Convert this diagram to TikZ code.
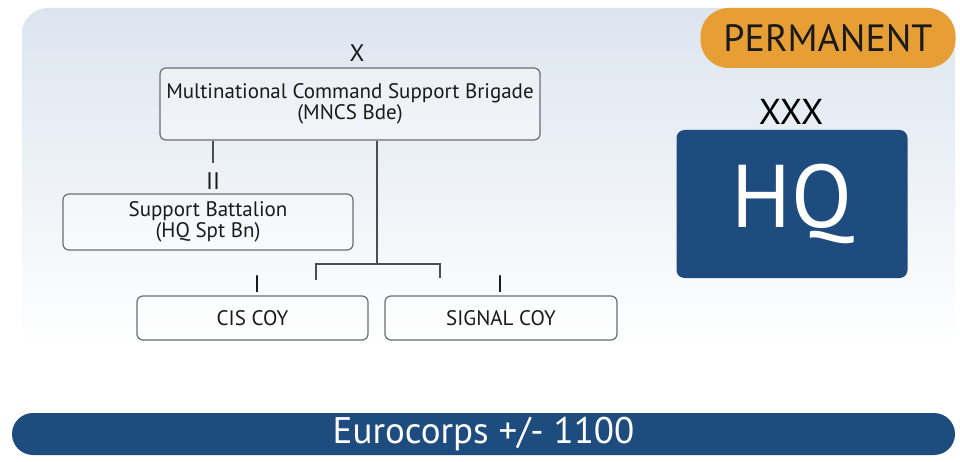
\documentclass[tikz,border=0pt]{standalone}
\usepackage{fontspec}
\setmainfont{PT Sans}
\begin{document}
\begin{tikzpicture}[x=1pt,y=-1pt,
  orgbox/.style={draw=boxgray,line width=1.2pt,rounded corners=6pt,fill=white,fill opacity=0.35,text opacity=1,align=center,inner sep=0pt,text=textdark,font=\fontsize{21}{21}\selectfont},
  conn/.style={draw=linegray,line width=1.3pt},
  rank/.style={font=\fontsize{24}{26}\selectfont,text=textdark,inner sep=0pt}]
\definecolor{boxgray}{HTML}{6A6E73}
\definecolor{linegray}{HTML}{4A4D52}
\definecolor{textdark}{HTML}{1A1A1A}
\definecolor{navy}{HTML}{1E4C7E}
\definecolor{orangeb}{HTML}{E79E34}
\definecolor{paneltop}{HTML}{DCE5EF}
\useasboundingbox (0,0) rectangle (960,462);
\fill[white] (0,0) rectangle (960,462);
% background panel
\shade[top color=paneltop,bottom color=white,rounded corners=26pt] (22,8) rectangle (955,348);
% PERMANENT
\node[fill=orangeb,rounded corners=28pt,minimum width=255pt,minimum height=60pt,inner sep=0pt,font=\fontsize{38}{42}\selectfont,text=textdark] (perm) at (828,38) {PERMANENT};
% XXX and HQ
\node[font=\fontsize{36}{38}\selectfont,text=black,inner sep=0pt] (xxx) at (791,112) {XXX};
\node[fill=navy,rounded corners=8pt,minimum width=231pt,minimum height=148pt,inner sep=0pt,font=\fontsize{89}{92}\selectfont,text=white] (hq) at (792,204) {HQ};
% org chart
\node[orgbox,minimum width=380pt,minimum height=72pt] (mncs) at (350,104) {Multinational Command Support Brigade\\(MNCS Bde)};
\node[rank] (x) at (357,53) {X};
\node[orgbox,minimum width=290pt,minimum height=56pt] (spt) at (208,222) {Support Battalion\\(HQ Spt Bn)};
\node[rank] (ii) at (213,181) {II};
\node[orgbox,minimum width=231pt,minimum height=44pt] (cis) at (252.5,318) {CIS COY};
\node[orgbox,minimum width=232pt,minimum height=44pt] (sig) at (501,318) {SIGNAL COY};
\node[rank] (i1) at (257,284) {I};
\node[rank] (i2) at (500,284) {I};
\coordinate (iitop) at (213,163);
\coordinate (fork) at (377,264);
\coordinate (forkl) at (316,264);
\coordinate (forkr) at (440,264);
\coordinate (forkle) at (316,280);
\coordinate (forkre) at (440,278);
\draw[conn] (mncs.south -| iitop) -- (iitop);
\draw[conn] (mncs.south -| fork) -- (fork);
\draw[conn] (forkle) -- (forkl) -- (forkr) -- (forkre);
% Eurocorps bar
\node[fill=navy,rounded corners=21pt,minimum width=943pt,minimum height=42pt,inner sep=0pt,font=\fontsize{37}{40}\selectfont,text=white] (euro) at (483.5,434) {Eurocorps +/- 1100};
\end{tikzpicture}
\end{document}
